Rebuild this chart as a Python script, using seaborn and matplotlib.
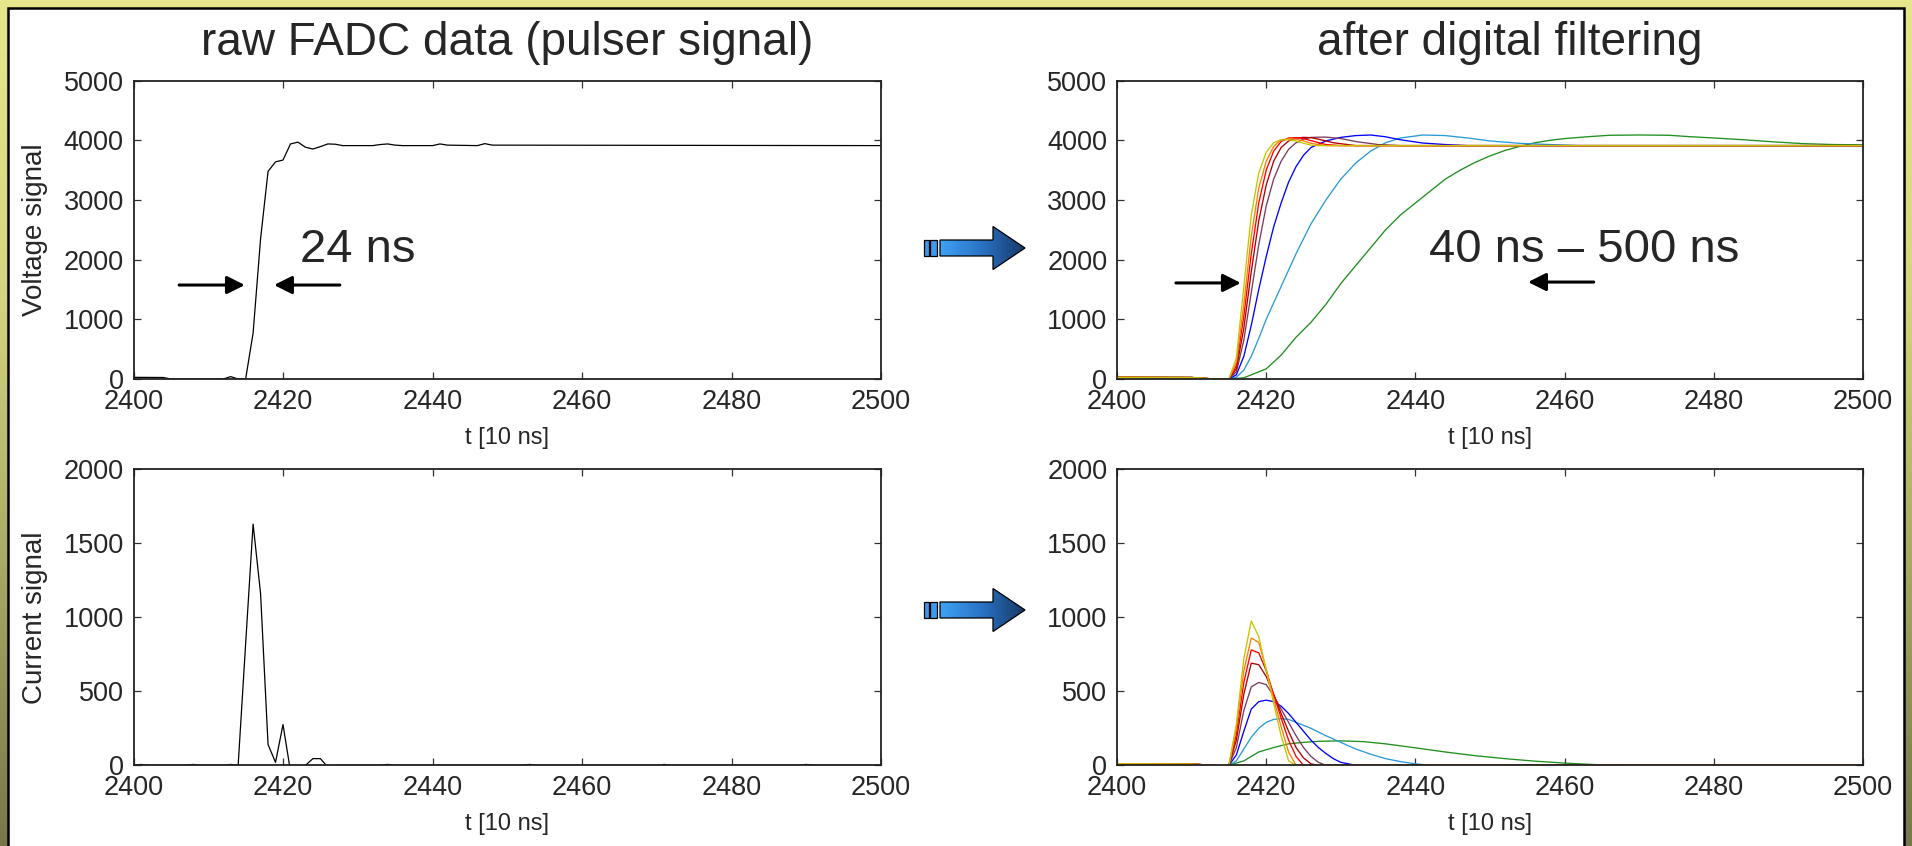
import matplotlib
matplotlib.use("Agg")
import numpy as np
import pandas as pd
import matplotlib.pyplot as plt
import seaborn as sns
from matplotlib.patches import Rectangle, Polygon
from matplotlib.colors import LinearSegmentedColormap

W, H = 1912, 846

# ---------------- raw FADC pulser signal ----------------
raw_v_t = [2400, 2404, 2405, 2412, 2413, 2414, 2415, 2416, 2417, 2418, 2419, 2420,
           2421, 2422, 2423, 2424, 2425, 2426, 2427, 2428, 2432, 2433, 2434, 2435,
           2436, 2440, 2441, 2442, 2446, 2447, 2448, 2500]
raw_v = [28, 25, 0, 0, 40, 0, 0, 770, 2350, 3480, 3640, 3670,
         3940, 3970, 3885, 3855, 3895, 3940, 3935, 3912, 3912, 3930, 3940, 3920,
         3912, 3912, 3940, 3920, 3912, 3945, 3920, 3912]

raw_i_t = [2400, 2401, 2402, 2407, 2408, 2409, 2412, 2413, 2414, 2415, 2416, 2417,
           2418, 2419, 2420, 2421, 2422, 2423, 2424, 2425, 2426, 2427, 2433, 2434,
           2435, 2452, 2453, 2454, 2470, 2471, 2472, 2489, 2490, 2491, 2500]
raw_i = [0, 6, 0, 0, 6, 0, 0, 6, 0, 820, 1630, 1160,
         140, 20, 275, -40, -20, 0, 45, 45, -12, 0, 0, 6,
         0, 0, 6, 0, 0, 6, 0, 0, 6, 0, 0]

# ---------------- filtered signals (8 shaping times) ----------------
shaping = ["500 ns", "300 ns", "200 ns", "150 ns", "100 ns", "80 ns", "60 ns", "40 ns"]
colors = ["#1f8f1f", "#2a9ad6", "#0000ff", "#7a3c5c", "#b00000", "#ff0000", "#ff8000", "#c8c400"]

base_t = [2400, 2410, 2413, 2415]
base_v = [28, 25, 0, 0]

filt_v_t = {
    "40 ns": [2416, 2417, 2418, 2419, 2420, 2421, 2422, 2423, 2424, 2425, 2426, 2427, 2500],
    "60 ns": [2416, 2417, 2418, 2419, 2420, 2421, 2422, 2423, 2424, 2425, 2426, 2428, 2500],
    "80 ns": [2416, 2417, 2418, 2419, 2420, 2421, 2422, 2423, 2424, 2425, 2426, 2428, 2430, 2500],
    "100 ns": [2416, 2417, 2418, 2419, 2420, 2421, 2422, 2423, 2424, 2425, 2426, 2427, 2429, 2432, 2500],
    "150 ns": [2416, 2417, 2418, 2419, 2420, 2421, 2422, 2423, 2424, 2425, 2426, 2428, 2430,
               2432, 2435, 2438, 2500],
    "200 ns": [2416, 2417, 2418, 2419, 2420, 2421, 2422, 2423, 2424, 2425, 2426, 2428, 2430,
               2432, 2434, 2436, 2438, 2441, 2444, 2447, 2500],
    "300 ns": [2416, 2417, 2418, 2419, 2420, 2422, 2424, 2426, 2428, 2430, 2432, 2434, 2436,
               2438, 2441, 2444, 2447, 2450, 2454, 2458, 2462, 2500],
    "500 ns": [2417, 2419, 2420, 2422, 2424, 2426, 2428, 2430, 2432, 2434, 2436, 2438, 2440,
               2442, 2444, 2446, 2448, 2450, 2452, 2454, 2456, 2458, 2460, 2463, 2466, 2470,
               2474, 2477, 2480, 2484, 2488, 2492, 2496, 2500],
}
filt_v = {
    "40 ns": [350, 1550, 2750, 3450, 3800, 3960, 4010, 4010, 3990, 3950, 3920, 3912, 3912],
    "60 ns": [280, 1250, 2400, 3200, 3650, 3900, 4010, 4025, 4020, 3990, 3950, 3912, 3912],
    "80 ns": [220, 1050, 2100, 2950, 3500, 3820, 3980, 4040, 4045, 4030, 3995, 3930, 3912, 3912],
    "100 ns": [170, 850, 1800, 2650, 3250, 3650, 3880, 3990, 4040, 4050, 4045, 4020, 3960, 3912, 3912],
    "150 ns": [120, 650, 1450, 2250, 2900, 3350, 3650, 3850, 3960, 4020, 4050, 4055, 4030,
               3980, 3930, 3912, 3912],
    "200 ns": [70, 380, 900, 1500, 2050, 2550, 2950, 3300, 3560, 3750, 3880, 3990, 4050,
               4080, 4090, 4060, 4010, 3955, 3930, 3912, 3912],
    "300 ns": [30, 150, 380, 680, 1000, 1550, 2100, 2600, 3000, 3350, 3620, 3820, 3960,
               4040, 4090, 4080, 4040, 3990, 3950, 3930, 3912, 3912],
    "500 ns": [20, 120, 170, 400, 700, 950, 1250, 1600, 1900, 2200, 2500, 2750, 2950,
               3150, 3350, 3500, 3630, 3740, 3830, 3900, 3960, 4000, 4030, 4060, 4085, 4090,
               4085, 4060, 4040, 4010, 3975, 3945, 3930, 3925],
}

ibase_t = [2400, 2410, 2413, 2414, 2415]
ibase_v = [10, 8, 0, -12, 0]

filt_i_t = {
    "40 ns": [2416, 2417, 2418, 2419, 2420, 2421, 2422, 2423, 2424, 2500],
    "60 ns": [2416, 2417, 2418, 2419, 2420, 2421, 2422, 2423, 2424, 2500],
    "80 ns": [2416, 2417, 2418, 2419, 2420, 2421, 2422, 2423, 2424, 2425, 2500],
    "100 ns": [2416, 2417, 2418, 2419, 2420, 2421, 2422, 2423, 2424, 2425, 2426, 2427, 2500],
    "150 ns": [2416, 2417, 2418, 2419, 2420, 2421, 2422, 2423, 2424, 2425, 2426, 2427, 2428, 2500],
    "200 ns": [2416, 2417, 2418, 2419, 2420, 2421, 2422, 2423, 2424, 2425, 2426, 2427, 2428,
               2429, 2430, 2432, 2500],
    "300 ns": [2416, 2417, 2418, 2419, 2420, 2421, 2422, 2423, 2424, 2426, 2428, 2430, 2432,
               2434, 2436, 2438, 2440, 2442, 2500],
    "500 ns": [2417, 2419, 2421, 2423, 2425, 2427, 2430, 2433, 2436, 2440, 2444, 2448, 2452,
               2456, 2460, 2464, 2468, 2500],
}
filt_i = {
    "40 ns": [280, 720, 975, 870, 640, 420, 200, 30, 0, 0],
    "60 ns": [250, 640, 860, 830, 650, 450, 260, 90, 0, 0],
    "80 ns": [210, 560, 780, 760, 640, 480, 320, 170, 60, 0, 0],
    "100 ns": [170, 480, 690, 680, 600, 480, 350, 230, 120, 50, 10, 0, 0],
    "150 ns": [120, 370, 530, 560, 545, 470, 380, 290, 200, 120, 60, 20, 0, 0],
    "200 ns": [70, 230, 380, 430, 440, 430, 400, 350, 290, 230, 170, 120, 80, 45, 20, 0, 0],
    "300 ns": [30, 110, 190, 250, 290, 310, 315, 310, 290, 250, 200, 155, 110, 75, 45, 25,
               10, 0, 0],
    "500 ns": [30, 90, 120, 145, 155, 162, 165, 160, 145, 118, 90, 65, 45, 28, 15, 5, 0, 0],
}


def long_frame(t_map, v_map, pre_t, pre_v):
    rows = []
    for name in shaping:
        for t, v in zip(pre_t + t_map[name], pre_v + v_map[name]):
            rows.append((name, t, v))
    return pd.DataFrame(rows, columns=["shaping", "t", "signal"])


df_v = long_frame(filt_v_t, filt_v, base_t, base_v)
df_i = long_frame(filt_i_t, filt_i, ibase_t, ibase_v)
palette = dict(zip(shaping, colors))

# ---------------- figure ----------------
sns.set_style("ticks")
plt.rcParams["font.family"] = ["Liberation Sans", "DejaVu Sans"]

fig = plt.figure(figsize=(W / 100, H / 100), dpi=100)

# slide background: vertical gradient yellow -> olive
bg = fig.add_axes([0, 0, 1, 1], zorder=-10)
grad_cmap = LinearSegmentedColormap.from_list(
    "slide", ["#e6e68c", "#d6d682", "#a9a964", "#77774a"])
bg.imshow(np.linspace(0, 1, 256).reshape(-1, 1), aspect="auto", cmap=grad_cmap,
          extent=(0, 1, 0, 1), origin="upper")
bg.set_axis_off()
bg.add_patch(Rectangle((8 / W, -0.02), (1904 - 8) / W, 1.02 - 8 / H,
                       transform=bg.transAxes, facecolor="white",
                       edgecolor="black", linewidth=1.8))


def px_box(left, top, right, bottom):
    return [left / W, 1 - bottom / H, (right - left) / W, (bottom - top) / H]


ax_rv = fig.add_axes(px_box(133.5, 80.7, 881, 379))
ax_fv = fig.add_axes(px_box(1117, 80.7, 1863, 379))
ax_ri = fig.add_axes(px_box(133.5, 469.3, 881, 765.3))
ax_fi = fig.add_axes(px_box(1117, 469.3, 1863, 765.3))

sns.lineplot(x=raw_v_t, y=raw_v, ax=ax_rv, color="black", linewidth=0.9,
             estimator=None, sort=False)
sns.lineplot(x=raw_i_t, y=raw_i, ax=ax_ri, color="black", linewidth=0.9,
             estimator=None, sort=False)
sns.lineplot(data=df_v, x="t", y="signal", hue="shaping", hue_order=shaping,
             palette=palette, ax=ax_fv, linewidth=0.95, estimator=None, sort=False,
             legend=False)
sns.lineplot(data=df_i, x="t", y="signal", hue="shaping", hue_order=shaping,
             palette=palette, ax=ax_fi, linewidth=0.95, estimator=None, sort=False,
             legend=False)


def style_axes(ax, ymax, ystep, height_px):
    ax.set_xlim(2400, 2500)
    ax.set_ylim(0, ymax)
    ax.set_xticks(range(2400, 2501, 20))
    ax.set_yticks(range(0, ymax + 1, ystep))
    ax.tick_params(direction="in", top=True, right=True, length=5, width=0.9,
                   color="#333333", labelsize=19.5, pad=7)
    for s in ax.spines.values():
        s.set_linewidth(1.3)
        s.set_color("#222222")
    ax.set_facecolor("white")
    ax.set_xlabel("t [10 ns]", fontsize=17)
    ax.xaxis.set_label_coords(0.5, -59 / height_px)
    ax.xaxis.label.set_va("center")
    ax.set_ylabel("")


style_axes(ax_rv, 5000, 1000, 298.3)
style_axes(ax_fv, 5000, 1000, 298.3)
style_axes(ax_ri, 2000, 500, 296)
style_axes(ax_fi, 2000, 500, 296)

for ax, lab in [(ax_rv, "Voltage signal"), (ax_ri, "Current signal")]:
    ax.set_ylabel(lab, fontsize=20)
    ax.yaxis.set_label_coords(-0.132, 0.5)
    ax.yaxis.label.set_va("center")

ax_rv.text(0.5, 1 + 25.7 / 298.3, "raw FADC data (pulser signal)", transform=ax_rv.transAxes,
           ha="center", va="baseline", fontsize=33)
ax_fv.text(0.526, 1 + 25.7 / 298.3, "after digital filtering", transform=ax_fv.transAxes,
           ha="center", va="baseline", fontsize=33)

# rise-time markers
arrow_kw = dict(arrowstyle="-|>,head_length=0.4,head_width=0.2", color="black",
                lw=2.2, mutation_scale=27, shrinkA=0, shrinkB=0)
ax_rv.annotate("", xy=(2414.9, 1575), xytext=(2406.1, 1575), arrowprops=arrow_kw)
ax_rv.annotate("", xy=(2418.8, 1575), xytext=(2427.6, 1575), arrowprops=arrow_kw)
ax_rv.text(2422.3, 1961, "24 ns", ha="left", va="baseline", fontsize=34)

ax_fv.annotate("", xy=(2416.6, 1610), xytext=(2407.9, 1610), arrowprops=arrow_kw)
ax_fv.annotate("", xy=(2455.1, 1625), xytext=(2463.9, 1625), arrowprops=arrow_kw)
ax_fv.text(2441.8, 1961, "40 ns \u2013 500 ns", ha="left", va="baseline", fontsize=34)


# block arrows between the columns
arrow_cmap = LinearSegmentedColormap.from_list("blue_arrow", ["#3ea2f6", "#2a72c4", "#173864"])


def block_arrow(cy):
    ax = fig.add_axes(px_box(918, cy - 26, 1032, cy + 26), zorder=5)
    ax.set_xlim(918, 1032)
    ax.set_ylim(cy + 26, cy - 26)
    ax.set_axis_off()
    body = [(940, cy - 8), (993, cy - 8), (993, cy - 21.5), (1025, cy),
            (993, cy + 21.5), (993, cy + 8), (940, cy + 8)]
    clip = Polygon(body, closed=True, facecolor="none", edgecolor="none",
                   transform=ax.transData)
    ax.add_patch(clip)
    im = ax.imshow(np.linspace(0, 1, 256).reshape(1, -1), cmap=arrow_cmap, aspect="auto",
                   extent=(940, 1025, cy + 22, cy - 22), interpolation="bilinear")
    im.set_clip_path(clip)
    ax.add_patch(Polygon(body, closed=True, facecolor="none", edgecolor="black", lw=0.9))
    for x0, x1 in [(924, 928.7), (930, 937.3)]:
        ax.add_patch(Rectangle((x0, cy - 8), x1 - x0, 16, facecolor="#3a9af0",
                               edgecolor="black", lw=0.9))


block_arrow(248)
block_arrow(610)

fig.savefig("out.png", dpi=100)
